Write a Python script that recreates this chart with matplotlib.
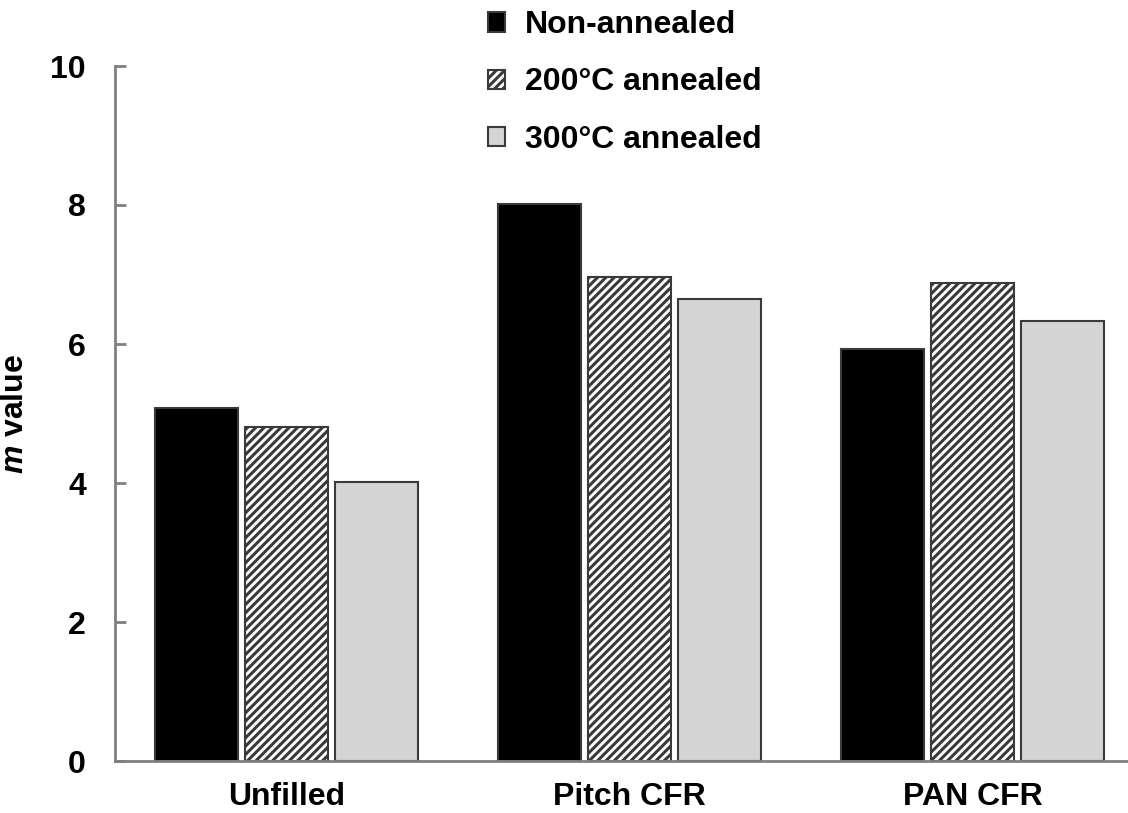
import matplotlib
matplotlib.use("Agg")
import matplotlib.pyplot as plt
import numpy as np

categories = ["Unfilled", "Pitch CFR", "PAN CFR"]
series_names = ["Non-annealed", "200°C annealed", "300°C annealed"]
non_annealed = [5.08, 8.01, 5.93]
annealed_200 = [4.81, 6.96, 6.88]
annealed_300 = [4.01, 6.65, 6.33]
yticks = [0, 2, 4, 6, 8, 10]

plt.rcParams["font.family"] = ["Liberation Sans", "DejaVu Sans"]
plt.rcParams["font.weight"] = "bold"
plt.rcParams["mathtext.fontset"] = "custom"
plt.rcParams["mathtext.it"] = "Liberation Sans:italic:bold"
plt.rcParams["mathtext.rm"] = "Liberation Sans:bold"
plt.rcParams["hatch.linewidth"] = 2.2
plt.rcParams["hatch.color"] = "black"

FS = 23

fig = plt.figure(figsize=(11.28, 8.13), dpi=100)
ax = fig.add_axes([115 / 1128, 52 / 813, (1128 - 115) / 1128, 695 / 813])

x = np.arange(len(categories))
width = 0.242
step = 0.262
edge = "#3a3a3a"

styles = [
    dict(color="black", edgecolor=edge),
    dict(color="white", edgecolor=edge, hatch="////"),
    dict(color="#d4d4d4", edgecolor=edge),
]
for i, (vals, name, st) in enumerate(zip([non_annealed, annealed_200, annealed_300], series_names, styles)):
    ax.bar(x + (i - 1) * step, vals, width, label=name, linewidth=1.5, **st)

ax.set_xlim(-0.5, 2.453)
ax.set_ylim(0, 10)
ax.set_yticks(yticks)
ax.set_xticks(x)
ax.set_xticklabels(categories, fontsize=FS, fontweight="bold")
ax.tick_params(axis="x", length=0, pad=15)
ax.tick_params(axis="y", direction="in", length=8, width=2, color="#808080",
               labelsize=FS, pad=21)
for lab in ax.get_yticklabels():
    lab.set_fontweight("bold")

for s in ["top", "right"]:
    ax.spines[s].set_visible(False)
for s in ["left", "bottom"]:
    ax.spines[s].set_color("#808080")
    ax.spines[s].set_linewidth(2)

ax.set_ylabel("$m$ value", fontsize=FS, fontweight="bold")
ax.yaxis.set_label_coords((30 - 115) / 1013, 0.5)

leg = ax.legend(loc="upper left", bbox_to_anchor=(475 / 1128, 1.003), bbox_transform=fig.transFigure,
                frameon=False, fontsize=FS, handlelength=0.55, handleheight=0.55,
                handletextpad=0.6, labelspacing=0.85, borderaxespad=0.0)
for t in leg.get_texts():
    t.set_fontweight("bold")

fig.savefig("out.png", dpi=100)
